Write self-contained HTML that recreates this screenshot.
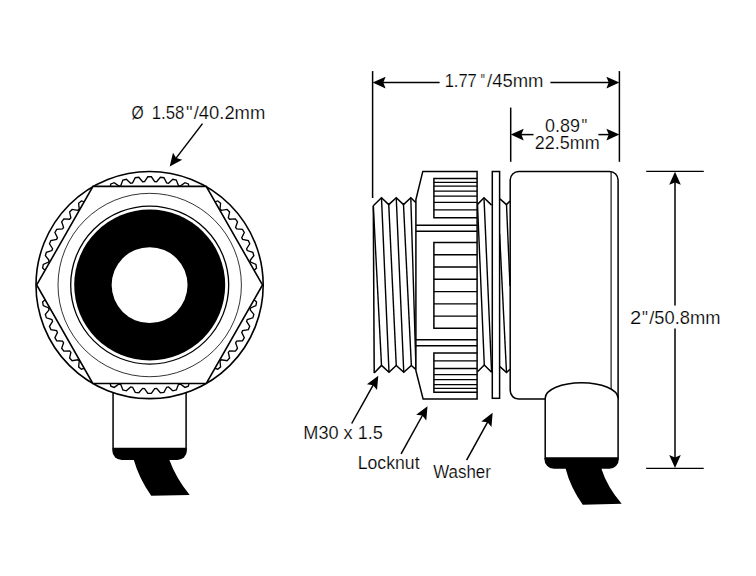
<!DOCTYPE html>
<html><head><meta charset="utf-8"><style>
html,body{margin:0;padding:0;background:#fff;width:756px;height:576px;overflow:hidden}
svg{display:block}
text{font-family:"Liberation Sans",sans-serif;font-size:18.0px;fill:#000;stroke:#fff;stroke-width:0.2px}
</style></head><body>
<svg width="756" height="576" viewBox="0 0 756 576">
<clipPath id="outhex"><path clip-rule="evenodd" d="M0,0 H756 V576 H0 Z M36.70,284.95 L93.00,186.40 L206.20,186.40 L262.50,284.95 L206.30,383.50 L92.80,383.50 Z"/></clipPath>
<path d="M113.07,380 V448.4 H186.1 V380" fill="#fff" stroke="#000" stroke-width="1.5"/>
<path d="M112.3,448.4 H186.9 V450.45 A9.5,9.5 0 0 1 177.4,459.95 H121.8 A9.5,9.5 0 0 1 112.3,450.45 Z" fill="#000"/>
<path d="M133.9,455 V460.2 Q138.95,478 151.2,495.8 L189.7,495.1 Q175.8,477.65 169.5,460.2 V455 Z" fill="#000"/>
<circle cx="149.6" cy="285.05" r="113.6" fill="#fff" stroke="#000" stroke-width="1.6"/>
<path d="M147.80,176.76 L151.40,176.76 L154.66,181.57 L156.59,181.69 L160.39,177.29 L163.95,177.71 L166.64,182.86 L168.54,183.20 L172.83,179.27 L176.32,180.10 L178.39,185.53 L180.24,186.08 L184.95,182.68 L188.32,183.91 L189.75,189.54 L191.52,190.31 L196.59,187.48 L199.80,189.09 L200.56,194.85 L202.23,195.82 L207.60,193.59 L210.60,195.57 L210.69,201.38 L212.24,202.53 L217.83,200.94 L220.58,203.25 L219.99,209.04 L221.39,210.36 L227.13,209.43 L229.60,212.05 L228.34,217.72 L229.58,219.20 L235.39,218.95 L237.53,221.83 L235.62,227.32 L236.68,228.93 L242.48,229.35 L244.28,232.46 L241.74,237.69 L242.61,239.42 L248.32,240.51 L249.74,243.81 L246.62,248.71 L247.28,250.52 L252.82,252.27 L253.85,255.71 L250.18,260.22 L250.63,262.10 L255.93,264.48 L256.55,268.01 L252.38,272.07 L252.61,273.98 L257.60,276.96 L257.81,280.55 L253.20,284.09 L253.20,286.01 L257.81,289.55 L257.60,293.14 L252.61,296.12 L252.38,298.03 L256.55,302.09 L255.93,305.62 L250.63,308.00 L250.18,309.88 L253.85,314.39 L252.82,317.83 L247.28,319.58 L246.62,321.39 L249.74,326.29 L248.32,329.59 L242.61,330.68 L241.74,332.41 L244.28,337.64 L242.48,340.75 L236.68,341.17 L235.62,342.78 L237.53,348.27 L235.39,351.15 L229.58,350.90 L228.34,352.38 L229.60,358.05 L227.13,360.67 L221.39,359.74 L219.99,361.06 L220.58,366.85 L217.83,369.16 L212.24,367.57 L210.69,368.72 L210.60,374.53 L207.60,376.51 L202.23,374.28 L200.56,375.25 L199.80,381.01 L196.59,382.62 L191.52,379.79 L189.75,380.56 L188.32,386.19 L184.95,387.42 L180.24,384.02 L178.39,384.57 L176.32,390.00 L172.83,390.83 L168.54,386.90 L166.64,387.24 L163.95,392.39 L160.39,392.81 L156.59,388.41 L154.66,388.53 L151.40,393.34 L147.80,393.34 L144.54,388.53 L142.61,388.41 L138.81,392.81 L135.25,392.39 L132.56,387.24 L130.66,386.90 L126.37,390.83 L122.88,390.00 L120.81,384.57 L118.96,384.02 L114.25,387.42 L110.88,386.19 L109.45,380.56 L107.68,379.79 L102.61,382.62 L99.40,381.01 L98.64,375.25 L96.97,374.28 L91.60,376.51 L88.60,374.53 L88.51,368.72 L86.96,367.57 L81.37,369.16 L78.62,366.85 L79.21,361.06 L77.81,359.74 L72.07,360.67 L69.60,358.05 L70.86,352.38 L69.62,350.90 L63.81,351.15 L61.67,348.27 L63.58,342.78 L62.52,341.17 L56.72,340.75 L54.92,337.64 L57.46,332.41 L56.59,330.68 L50.88,329.59 L49.46,326.29 L52.58,321.39 L51.92,319.58 L46.38,317.83 L45.35,314.39 L49.02,309.88 L48.57,308.00 L43.27,305.62 L42.65,302.09 L46.82,298.03 L46.59,296.12 L41.60,293.14 L41.39,289.55 L46.00,286.01 L46.00,284.09 L41.39,280.55 L41.60,276.96 L46.59,273.98 L46.82,272.07 L42.65,268.01 L43.27,264.48 L48.57,262.10 L49.02,260.22 L45.35,255.71 L46.38,252.27 L51.92,250.52 L52.58,248.71 L49.46,243.81 L50.88,240.51 L56.59,239.42 L57.46,237.69 L54.92,232.46 L56.72,229.35 L62.52,228.93 L63.58,227.32 L61.67,221.83 L63.81,218.95 L69.62,219.20 L70.86,217.72 L69.60,212.05 L72.07,209.43 L77.81,210.36 L79.21,209.04 L78.62,203.25 L81.37,200.94 L86.96,202.53 L88.51,201.38 L88.60,195.57 L91.60,193.59 L96.97,195.82 L98.64,194.85 L99.40,189.09 L102.61,187.48 L107.68,190.31 L109.45,189.54 L110.88,183.91 L114.25,182.68 L118.96,186.08 L120.81,185.53 L122.88,180.10 L126.37,179.27 L130.66,183.20 L132.56,182.86 L135.25,177.71 L138.81,177.29 L142.61,181.69 L144.54,181.57 Z" fill="none" stroke="#000" stroke-width="1.35" clip-path="url(#outhex)" stroke-linejoin="miter"/>
<path d="M36.70,284.95 L93.00,186.40 L206.20,186.40 L262.50,284.95 L206.30,383.50 L92.80,383.50 Z" fill="#fff" stroke="#000" stroke-width="1.6" stroke-linejoin="miter"/>
<circle cx="149.7" cy="285.03" r="91.7" fill="none" stroke="#000" stroke-width="0.8"/>
<circle cx="149.7" cy="285.05" r="79.0" fill="none" stroke="#000" stroke-width="1.3"/>
<circle cx="149.7" cy="285.05" r="75.5" fill="#000"/>
<circle cx="149.6" cy="285.1" r="37.95" fill="#fff"/>
<path d="M518.7,171.5 H609.6 A8.5,8.5 0 0 1 618.1,180 V399.1 H518.7 A8.5,8.5 0 0 1 510.2,390.6 V180 A8.5,8.5 0 0 1 518.7,171.5 Z" fill="#fff" stroke="#000" stroke-width="1.5"/>
<line x1="611.1" y1="171.5" x2="611.1" y2="389" stroke="#000" stroke-width="1.1"/>
<path d="M545.2,398.3 A36.45,15.6 0 0 1 618.1,398.3 V457.9 H545.2 Z" fill="#fff" stroke="#000" stroke-width="1.5"/>
<path d="M544.4,457.9 H618.85 V459.35 A9.5,9.5 0 0 1 609.35,468.85 H553.9 A9.5,9.5 0 0 1 544.4,459.35 Z" fill="#000"/>
<path d="M565.8,464 V469.15 Q570.3,486.9 582.75,504.7 L621.7,503.8 Q607.05,486.5 601.6,469.15 V464 Z" fill="#000"/>
<polyline points="373.3,205.8 381.5,197.7 388.75,204.6 396.25,197.7 403.5,204.6 410.8,197.7 416,202.7" fill="none" stroke="#000" stroke-width="1.5" stroke-linejoin="miter"/>
<polyline points="374.2,372.9 381.5,365.4 389,372.2 396.25,365.4 403.75,372.2 411.35,365.4 416,369.6" fill="none" stroke="#000" stroke-width="1.5" stroke-linejoin="miter"/>
<line x1="373.3" y1="205.8" x2="374.2" y2="372.9" stroke="#000" stroke-width="1.5"/>
<line x1="373.3" y1="205.8" x2="381.5" y2="365.4" stroke="#000" stroke-width="1.4"/>
<line x1="381.5" y1="197.7" x2="389" y2="372.2" stroke="#000" stroke-width="1.4"/>
<line x1="388.75" y1="204.6" x2="396.25" y2="365.4" stroke="#000" stroke-width="1.4"/>
<line x1="396.25" y1="197.7" x2="403.75" y2="372.2" stroke="#000" stroke-width="1.4"/>
<line x1="403.5" y1="204.6" x2="411.35" y2="365.4" stroke="#000" stroke-width="1.4"/>
<line x1="410.8" y1="197.7" x2="416" y2="369.6" stroke="#000" stroke-width="1.4"/>
<polyline points="477.5,204.4 484,197.8 491.6,205.1" fill="none" stroke="#000" stroke-width="1.5"/>
<polyline points="477.5,371.8 484.3,365 491.6,372.3" fill="none" stroke="#000" stroke-width="1.5"/>
<line x1="484" y1="197.8" x2="491.6" y2="372.3" stroke="#000" stroke-width="1.4"/>
<line x1="477.5" y1="204.4" x2="484.3" y2="365" stroke="#000" stroke-width="1.4"/>
<polyline points="499.9,198.9 506.5,204.6 510,201" fill="none" stroke="#000" stroke-width="1.5"/>
<polyline points="499.9,366.6 506.5,372.5 510,369.2" fill="none" stroke="#000" stroke-width="1.5"/>
<line x1="506.5" y1="204.6" x2="510" y2="286" stroke="#000" stroke-width="1.4"/>
<line x1="499.6" y1="234" x2="506.5" y2="372.5" stroke="#000" stroke-width="1.4"/>
<rect x="492.3" y="171.5" width="7.3" height="226.8" fill="#fff" stroke="#000" stroke-width="1.5"/>
<path d="M422.8,171.4 H477.1 V398.9 H423.1 L415.9,370.6 V199.6 Z" fill="#fff" stroke="#000" stroke-width="1.5" stroke-linejoin="miter"/>
<path d="M415.9,225.3 H477.1 M415.9,231.2 H477.1 M415.9,339.7 H477.1 M415.9,345.8 H477.1" stroke="#000" stroke-width="1.5"/>
<path d="M477.1,178.50 H433.9 V217.70 H477.1" fill="none" stroke="#000" stroke-width="1.5"/>
<path d="M433.9,182.40 H477.1 M433.9,186.20 H477.1 M433.9,191.20 H477.1 M433.9,196.10 H477.1 M433.9,202.30 H477.1 M433.9,209.90 H477.1" stroke="#000" stroke-width="1.3"/>
<path d="M477.1,242.50 H433.9 V328.30 H477.1" fill="none" stroke="#000" stroke-width="1.5"/>
<path d="M433.9,254.76 H477.1 M433.9,267.01 H477.1 M433.9,279.27 H477.1 M433.9,291.53 H477.1 M433.9,303.79 H477.1 M433.9,316.04 H477.1" stroke="#000" stroke-width="1.3"/>
<path d="M477.1,353.10 H433.9 V392.30 H477.1" fill="none" stroke="#000" stroke-width="1.5"/>
<path d="M433.9,360.90 H477.1 M433.9,368.50 H477.1 M433.9,374.70 H477.1 M433.9,379.60 H477.1 M433.9,384.60 H477.1 M433.9,388.40 H477.1" stroke="#000" stroke-width="1.3"/>
<line x1="372.6" y1="71.1" x2="372.6" y2="198" stroke="#000" stroke-width="1.5"/>
<line x1="619.4" y1="71.1" x2="619.4" y2="161.8" stroke="#000" stroke-width="1.5"/>
<line x1="439.60" y1="82.60" x2="380.60" y2="82.60" stroke="#000" stroke-width="1.5"/><path d="M372.60,82.60 L385.60,76.80 L383.30,82.60 L385.60,88.40 Z" fill="#000"/>
<line x1="550.40" y1="82.60" x2="611.40" y2="82.60" stroke="#000" stroke-width="1.5"/><path d="M619.40,82.60 L606.40,88.40 L608.70,82.60 L606.40,76.80 Z" fill="#000"/>
<line x1="510.7" y1="107.6" x2="510.7" y2="161.8" stroke="#000" stroke-width="1.5"/>
<line x1="533.50" y1="134.60" x2="518.70" y2="134.60" stroke="#000" stroke-width="1.5"/><path d="M510.70,134.60 L523.70,128.80 L521.40,134.60 L523.70,140.40 Z" fill="#000"/>
<line x1="598.40" y1="134.60" x2="611.40" y2="134.60" stroke="#000" stroke-width="1.5"/><path d="M619.40,134.60 L606.40,140.40 L608.70,134.60 L606.40,128.80 Z" fill="#000"/>
<line x1="646.2" y1="171.4" x2="703.8" y2="171.4" stroke="#000" stroke-width="1.4"/>
<line x1="646.1" y1="468.4" x2="703.7" y2="468.4" stroke="#000" stroke-width="1.4"/>
<line x1="675.00" y1="305.60" x2="675.00" y2="179.80" stroke="#000" stroke-width="1.5"/><path d="M675.00,171.80 L680.80,184.80 L675.00,182.50 L669.20,184.80 Z" fill="#000"/>
<line x1="675.00" y1="328.40" x2="675.00" y2="460.10" stroke="#000" stroke-width="1.5"/><path d="M675.00,468.10 L669.20,455.10 L675.00,457.40 L680.80,455.10 Z" fill="#000"/>
<line x1="202.50" y1="123.60" x2="174.56" y2="160.14" stroke="#000" stroke-width="1.5"/><path d="M169.70,166.50 L172.99,152.65 L176.20,158.00 L182.20,159.70 Z" fill="#000"/>
<line x1="351.70" y1="423.50" x2="374.40" y2="382.79" stroke="#000" stroke-width="1.5"/><path d="M378.30,375.80 L377.03,389.98 L373.09,385.15 L366.90,384.33 Z" fill="#000"/>
<line x1="401.10" y1="453.90" x2="423.62" y2="413.25" stroke="#000" stroke-width="1.5"/><path d="M427.50,406.25 L426.27,420.43 L422.31,415.61 L416.13,414.81 Z" fill="#000"/>
<line x1="466.60" y1="460.20" x2="488.80" y2="419.81" stroke="#000" stroke-width="1.5"/><path d="M492.65,412.80 L491.47,426.99 L487.50,422.18 L481.31,421.40 Z" fill="#000"/>
<text x="444.64" y="86.7" textLength="32.19" lengthAdjust="spacingAndGlyphs">1.77</text>
<text x="480.82" y="86.7" textLength="4.08" lengthAdjust="spacingAndGlyphs">"</text>
<text x="487.10" y="86.7" textLength="56.41" lengthAdjust="spacingAndGlyphs">/45mm</text>
<text x="131.55" y="118.5" textLength="12.18" lengthAdjust="spacingAndGlyphs">Ø</text>
<text x="151.72" y="118.5" textLength="32.60" lengthAdjust="spacingAndGlyphs">1.58</text>
<text x="186.12" y="118.5" textLength="6.57" lengthAdjust="spacingAndGlyphs">"</text>
<text x="193.70" y="118.5" textLength="71.61" lengthAdjust="spacingAndGlyphs">/40.2mm</text>
<text x="545.00" y="132.4" textLength="34.95" lengthAdjust="spacingAndGlyphs">0.89</text>
<text x="581.41" y="132.4" textLength="5.78" lengthAdjust="spacingAndGlyphs">"</text>
<text x="534.84" y="148.5" textLength="64.99" lengthAdjust="spacingAndGlyphs">22.5mm</text>
<text x="629.98" y="324.0" textLength="11.23" lengthAdjust="spacingAndGlyphs">2</text>
<text x="642.00" y="324.0" textLength="5.92" lengthAdjust="spacingAndGlyphs">"</text>
<text x="649.20" y="324.0" textLength="71.20" lengthAdjust="spacingAndGlyphs">/50.8mm</text>
<text x="303.31" y="438.5" textLength="79.55" lengthAdjust="spacingAndGlyphs">M30 x 1.5</text>
<text x="357.75" y="468.6" textLength="61.78" lengthAdjust="spacingAndGlyphs">Locknut</text>
<text x="433.22" y="477.8" textLength="57.66" lengthAdjust="spacingAndGlyphs">Washer</text>
</svg>
</body></html>
